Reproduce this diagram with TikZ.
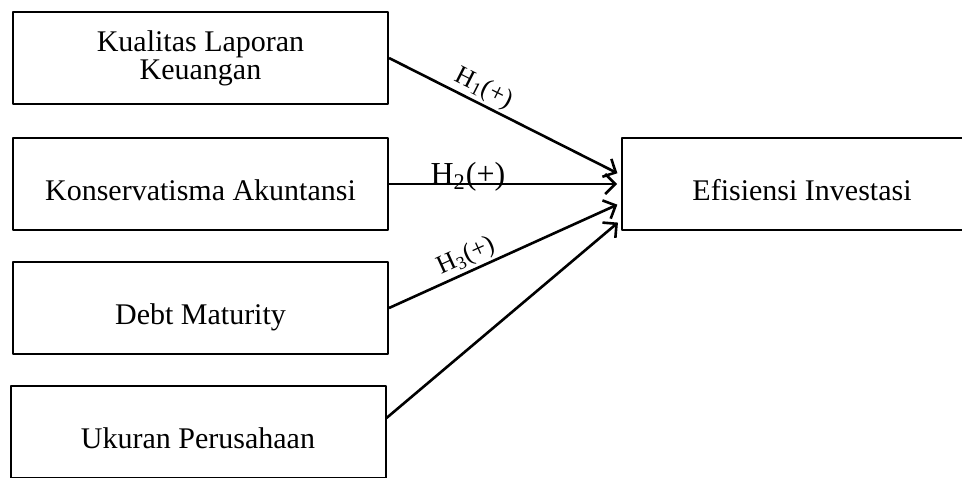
\documentclass[tikz,border=0pt]{standalone}
\usepackage{fontspec}
\setmainfont{Liberation Serif}
\usetikzlibrary{arrows.meta,positioning}
\begin{document}
\begin{tikzpicture}[x=.5pt, y=-.5pt, font=\fontsize{15}{13}\selectfont, line join=round, >={Straight Barb[length=5pt,width=10pt]}]
	\tikzset{var/.style={draw, line width=1pt, minimum width=187.5pt, minimum height=46pt, inner sep=0pt, align=center},
		one/.style={text height=1.6em, text depth=0pt},
		hyp/.style={font=\fontsize{13}{13}\selectfont, inner sep=1pt},
		arr/.style={->, line width=1.3pt, shorten >=2pt}}
	\useasboundingbox (0,0) rectangle (962,477);
	\node[var] (kql) at (200.5,58) {Kualitas Laporan\\Keuangan};
	\node[var,one] (kon) at (200.5,184) {Konservatisma Akuntansi};
	\node[var,one] (dm) at (200.5,308) {Debt Maturity};
	\node[var,one] (uk) at (198,432) {Ukuran Perusahaan};
	\node[var,one,minimum width=180pt] (ei) at (802,184) {Efisiensi Investasi};
	\draw[arr] (kql.east) -- ([yshift=4.5pt]ei.west) node[hyp, sloped, above, pos=.38]{H\textsubscript{1}(+)};
	\draw[arr] (kon.east) -- (kon.east -| ei.west) node[pos=.34, anchor=base, font=\fontsize{16}{17}\selectfont]{H\textsubscript{2}(+)};
	\draw[arr] (dm.east) -- ([yshift=-9.5pt]ei.west) node[hyp, sloped, above, pos=.36]{H\textsubscript{3}(+)};
	\draw[arr] ([yshift=7pt]uk.east) -- ([yshift=-18pt]ei.west);
\end{tikzpicture}
\end{document}
